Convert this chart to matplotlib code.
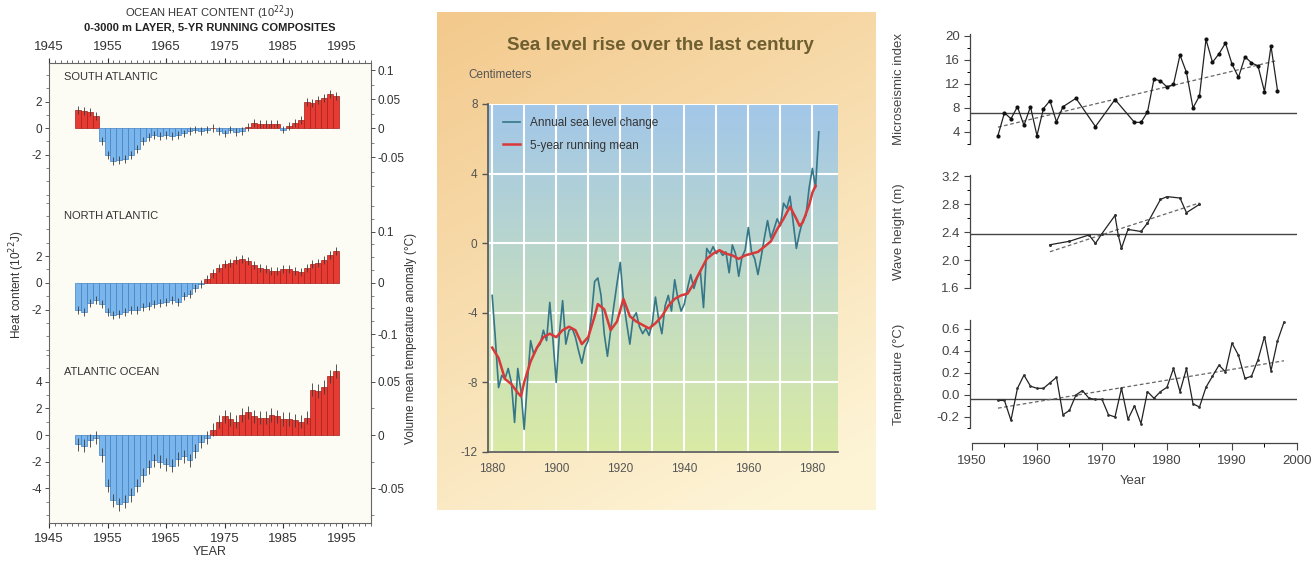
import numpy as np
import matplotlib
matplotlib.use('Agg')
import matplotlib.pyplot as plt
from matplotlib.ticker import MultipleLocator, FixedLocator
from matplotlib.colors import to_rgb

plt.rcParams['font.family'] = ['Liberation Sans', 'DejaVu Sans']
plt.rcParams['axes.unicode_minus'] = False

# ---------------- data ----------------
heat_years = list(range(1950, 1995))
south_atlantic = [1.4, 1.3, 1.2, 0.9, -1.0, -2.0, -2.5, -2.4, -2.3, -2.0,
                  -1.6, -1.0, -0.7, -0.5, -0.6, -0.5, -0.6, -0.5, -0.4, -0.2,
                  -0.1, -0.2, -0.1, 0.0, -0.2, -0.4, -0.1, -0.3, -0.2, 0.1,
                  0.4, 0.3, 0.3, 0.3, 0.3, -0.1, 0.2, 0.4, 0.6, 2.0,
                  1.9, 2.1, 2.3, 2.6, 2.4]
north_atlantic = [-2.0, -2.2, -1.5, -1.3, -1.6, -2.2, -2.4, -2.3, -2.2, -2.0,
                  -2.0, -1.8, -1.7, -1.6, -1.5, -1.4, -1.3, -1.4, -1.0, -0.8,
                  -0.4, -0.1, 0.3, 0.7, 1.1, 1.4, 1.5, 1.7, 1.8, 1.6,
                  1.3, 1.1, 1.0, 0.9, 0.9, 1.0, 1.0, 0.9, 0.8, 1.1,
                  1.4, 1.5, 1.7, 2.1, 2.4]
atlantic_ocean = [-0.7, -0.8, -0.4, -0.2, -1.5, -3.8, -4.9, -5.2, -5.0, -4.5,
                  -3.8, -3.0, -2.4, -1.9, -2.0, -2.2, -2.3, -1.8, -1.6, -1.9,
                  -1.2, -0.5, -0.2, 0.4, 1.0, 1.4, 1.2, 1.0, 1.5, 1.7,
                  1.4, 1.3, 1.3, 1.5, 1.4, 1.2, 1.2, 1.1, 1.0, 1.3,
                  3.4, 3.3, 3.6, 4.4, 4.8]
heat_err = {'SOUTH ATLANTIC': 0.3, 'NORTH ATLANTIC': 0.3, 'ATLANTIC OCEAN': 0.5}
heat_xticks = [1945, 1955, 1965, 1975, 1985, 1995]

sl_years = list(range(1880, 1983))
sl_annual = [-3.0, -5.5, -8.3, -7.6, -7.8, -7.2, -8.0, -10.3, -7.2, -8.5,
             -10.7, -8.0, -5.6, -6.4, -6.0, -5.8, -5.0, -5.6, -3.4, -5.6,
             -8.0, -5.2, -3.3, -5.8, -5.0, -4.9, -5.4, -6.2, -6.9, -6.0,
             -5.6, -4.2, -2.2, -2.0, -3.0, -5.2, -6.5, -5.0, -3.6, -2.3,
             -1.1, -3.3, -4.6, -5.8, -4.3, -4.0, -4.8, -5.2, -4.9, -5.3,
             -4.6, -3.1, -4.4, -5.2, -3.6, -3.0, -3.9, -2.1, -3.2, -3.9,
             -3.5, -2.6, -1.8, -2.6, -2.0, -1.6, -3.7, -0.3, -0.6, -0.2,
             -0.6, -0.4, -0.7, -0.5, -1.7, -0.1, -0.6, -1.9, -0.8, -0.4,
             0.9, -0.5, -0.9, -1.8, -0.8, 0.3, 1.3, 0.3, 0.8, 1.4,
             1.0, 2.3, 2.0, 2.7, 1.2, -0.3, 0.6, 1.3, 1.6, 3.2,
             4.3, 3.2, 6.4]
rm_years = [1880, 1882, 1884, 1886, 1888, 1889, 1890, 1892, 1894, 1896,
            1898, 1900, 1902, 1904, 1906, 1908, 1910, 1912, 1913, 1915,
            1917, 1919, 1921, 1923, 1925, 1927, 1929, 1931, 1933, 1935,
            1937, 1939, 1941, 1943, 1945, 1947, 1949, 1951, 1953, 1955,
            1957, 1959, 1961, 1963, 1965, 1967, 1969, 1971, 1973, 1975,
            1976, 1977, 1979, 1980, 1981]
rm_vals = [-6.0, -6.6, -7.8, -8.1, -8.6, -8.8, -8.0, -6.8, -6.0, -5.4,
           -5.2, -5.4, -5.0, -4.8, -5.0, -5.8, -5.4, -4.2, -3.5, -3.8,
           -5.0, -4.5, -3.2, -4.2, -4.5, -4.7, -4.9, -4.6, -4.2, -3.6,
           -3.2, -3.0, -2.9, -2.3, -1.6, -0.9, -0.6, -0.4, -0.6, -0.7,
           -0.9, -0.7, -0.6, -0.5, -0.2, 0.1, 0.8, 1.4, 2.1, 1.4,
           1.0, 1.2, 2.2, 2.9, 3.3]
sl_xticks = [1880, 1900, 1920, 1940, 1960, 1980]
sl_yticks = [8, 4, 0, -4, -8, -12]

micro_years = [1954, 1955, 1956, 1957, 1958, 1959, 1960, 1961, 1962, 1963, 1964,
               1966, 1969, 1972, 1975, 1976, 1977, 1978, 1979, 1980, 1981, 1982,
               1983, 1984, 1985, 1986, 1987, 1988, 1989, 1990, 1991, 1992, 1993,
               1994, 1995, 1996, 1997]
micro_vals = [3.4, 7.2, 6.2, 8.2, 5.1, 8.2, 3.4, 7.9, 9.2, 5.7, 8.2,
              9.6, 4.9, 9.4, 5.6, 5.6, 7.3, 12.8, 12.5, 11.5, 11.9, 16.8,
              13.9, 8.0, 10.0, 19.4, 15.6, 17.0, 18.8, 15.3, 13.1, 16.5, 15.5,
              15.0, 10.7, 18.3, 10.9]
micro_trend_x = [1954, 1997]
micro_trend_y = [4.8, 15.9]
micro_ref = 7.1

wave_years = [1962, 1965, 1968, 1969, 1970, 1972, 1972.5, 1973, 1974, 1976,
              1977, 1979, 1980, 1982, 1983, 1985]
wave_vals = [2.22, 2.27, 2.36, 2.24, 2.38, 2.64, 2.36, 2.17, 2.44, 2.41,
             2.53, 2.87, 2.91, 2.89, 2.68, 2.80]
wave_trend_x = [1962, 1985]
wave_trend_y = [2.12, 2.82]
wave_ref = 2.37

temp_years = list(range(1954, 1999))
temp_vals = [-0.05, -0.05, -0.23, 0.06, 0.18, 0.08, 0.06, 0.06, 0.11, 0.16,
             -0.18, -0.14, 0.00, 0.04, -0.03, -0.04, -0.04, -0.18, -0.20, 0.06,
             -0.22, -0.10, -0.26, 0.03, -0.03, 0.03, 0.07, 0.24, 0.03, 0.24,
             -0.08, -0.11, 0.07, 0.17, 0.27, 0.21, 0.47, 0.36, 0.15, 0.17,
             0.32, 0.53, 0.22, 0.49, 0.66]
temp_trend_x = [1954, 1998]
temp_trend_y = [-0.12, 0.31]
temp_ref = -0.04
right_xticks = [1950, 1960, 1970, 1980, 1990, 2000]

# ---------------- figure ----------------
W, H = 1315, 564
fig = plt.figure(figsize=(W / 100, H / 100), dpi=100)
fig.patch.set_facecolor('white')


def pax(x0, y0, x1, y1, **kw):
    return fig.add_axes([x0 / W, 1 - y1 / H, (x1 - x0) / W, (y1 - y0) / H], **kw)


# ======== LEFT: ocean heat content ========
RED, RED_E = '#e53b33', '#a81e1a'
BLUE, BLUE_E = '#7ab6ec', '#3f7fc2'
panels = [
    ('SOUTH ATLANTIC', south_atlantic, (63, 200), (-5.4, 4.9), 0.0229,
     [2, 0, -2], [0.1, 0.05, 0, -0.05], ['0.1', '0.05', '0', '-0.05']),
    ('NORTH ATLANTIC', north_atlantic, (200, 355), (-5.4, 6.2), 0.0261,
     [2, 0, -2], [0.1, 0, -0.1], ['0.1', '0', '-0.1']),
    ('ATLANTIC OCEAN', atlantic_ocean, (355, 523), (-6.6, 6.0), 0.01256,
     [4, 2, 0, -2, -4], [0.05, 0, -0.05], ['0.05', '0', '-0.05']),
]
bg_left = '#fdfcf4'
for i, (name, vals, (ya, yb), ylim, fac, lt, rt, rtl) in enumerate(panels):
    ax = pax(49, ya, 371, yb)
    ax.set_facecolor(bg_left)
    v = np.array(vals)
    cols = [RED if x >= 0 else BLUE for x in v]
    ecols = [RED_E if x >= 0 else BLUE_E for x in v]
    ax.bar(heat_years, v, width=1.0, color=cols, edgecolor=ecols, linewidth=0.5, zorder=2)
    ax.errorbar(heat_years, v, yerr=heat_err[name], fmt='none', ecolor='#3a3a3a',
                elinewidth=0.6, capsize=0, zorder=3)
    ax.set_xlim(1945, 2000)
    ax.set_ylim(*ylim)
    ax.set_yticks(sorted(set(lt)))
    ax.yaxis.set_minor_locator(MultipleLocator(1))
    ax.tick_params(axis='y', labelsize=8.5, colors='#333', length=3, width=0.6, pad=2)
    ax.tick_params(axis='y', which='minor', length=2, width=0.5, colors='#555')
    ax.text(1947.5, ylim[1] - (ylim[1] - ylim[0]) * 0.10, name, fontsize=8,
            color='#333', va='center', ha='left')
    for s in ['left', 'right', 'top', 'bottom']:
        ax.spines[s].set_color('#666')
        ax.spines[s].set_linewidth(0.8)
    ax.spines['top'].set_visible(i == 0)
    ax.spines['bottom'].set_visible(i == 2)
    ax.set_xticks(heat_xticks)
    ax.xaxis.set_minor_locator(MultipleLocator(1))
    if i == 0:
        ax.tick_params(axis='x', which='both', top=True, bottom=False,
                       labeltop=True, labelbottom=False, labelsize=9.5, colors='#333')
        ax.tick_params(axis='x', which='minor', length=2, width=0.5)
    elif i == 2:
        ax.tick_params(axis='x', which='both', labelsize=9.5, colors='#333')
        ax.tick_params(axis='x', which='minor', length=2, width=0.5)
        ax.set_xlabel('YEAR', fontsize=9, color='#333', labelpad=1)
    else:
        ax.tick_params(axis='x', which='both', bottom=False, labelbottom=False)
    ax2 = ax.twinx()
    ax2.set_ylim(ylim[0] * fac, ylim[1] * fac)
    ax2.set_yticks(rt)
    ax2.set_yticklabels(rtl)
    ax2.yaxis.set_minor_locator(MultipleLocator(0.025))
    ax2.tick_params(axis='y', labelsize=8.5, colors='#333', length=3, width=0.6, pad=2)
    ax2.tick_params(axis='y', which='minor', length=2, width=0.5, colors='#555')
    for s in ['left', 'right', 'top', 'bottom']:
        ax2.spines[s].set_visible(False)

fig.text(210 / W, 1 - 13 / H, 'OCEAN HEAT CONTENT (10$^{22}$J)', fontsize=8,
         ha='center', va='center', color='#333')
fig.text(210 / W, 1 - 27 / H, '0-3000 m LAYER, 5-YR RUNNING COMPOSITES', fontsize=8,
         ha='center', va='center', color='#222', fontweight='bold')
fig.text(17 / W, 1 - 285 / H, 'Heat content (10$^{22}$J)', fontsize=8.5,
         rotation=90, ha='center', va='center', color='#333')
fig.text(411 / W, 1 - 338 / H, 'Volume mean temperature anomaly (\u00b0C)', fontsize=8.5,
         rotation=90, ha='center', va='center', color='#333')

# ======== MIDDLE: sea level ========
bgax = pax(437, 12, 876, 510)
c_tl = np.array(to_rgb('#f3c98c'))
c_br = np.array(to_rgb('#fdf4d6'))
gx = np.linspace(0, 1, 200)[None, :]
gy = np.linspace(0, 1, 200)[:, None]
t = np.clip(0.35 * gx + 0.75 * gy, 0, 1)[..., None]
bg = c_tl * (1 - t) + c_br * t
bgax.imshow(bg, aspect='auto', extent=[0, 1, 0, 1], origin='upper')
bgax.set_axis_off()

sax = pax(488, 104, 838, 452)
sax.set_xlim(1878.7, 1988)
sax.set_ylim(-12, 8)
c_top = np.array(to_rgb('#a2c7e9'))
c_bot = np.array(to_rgb('#daeba5'))
tt = np.linspace(0, 1, 200)[:, None, None]
grad = c_top * (1 - tt) + c_bot * tt
grad = np.repeat(grad, 2, axis=1)
sax.imshow(grad, aspect='auto', extent=[1878.7, 1988, -12, 8], origin='upper', zorder=0)
sax.set_xticks(sl_xticks)
sax.xaxis.set_minor_locator(FixedLocator(list(range(1890, 1990, 10))))
sax.set_yticks(sl_yticks)
sax.grid(True, which='minor', axis='x', color='white', linewidth=1.5, zorder=1)
sax.grid(True, which='major', axis='y', color='white', linewidth=1.5, zorder=1)
sax.grid(True, which='major', axis='x', color='white', linewidth=1.5, zorder=1)
sax.plot(sl_years, sl_annual, color='#357688', linewidth=1.2, zorder=3,
         label='Annual sea level change')
sax.plot(rm_years, rm_vals, color='#d83a3a', linewidth=1.8, zorder=4,
         label='5-year running mean')
for s in ['top', 'right']:
    sax.spines[s].set_visible(False)
for s in ['left', 'bottom']:
    sax.spines[s].set_color('#555')
    sax.spines[s].set_linewidth(1.2)
sax.tick_params(axis='x', which='both', length=0, labelsize=8.5, colors='#555', pad=8)
sax.tick_params(axis='y', length=4, width=1, labelsize=8.5, colors='#555')
leg = sax.legend(loc='upper left', frameon=False, fontsize=8.5, handlelength=1.5,
                 borderaxespad=0.4, labelspacing=0.9, bbox_to_anchor=(0.015, 0.99))
for txt in leg.get_texts():
    txt.set_color('#333')
fig.text(660 / W, 1 - 45 / H, 'Sea level rise over the last century', fontsize=13.5,
         fontweight='bold', ha='center', va='center', color='#6e5e30',
         family=['Liberation Sans Narrow', 'Liberation Sans', 'DejaVu Sans'])
fig.text(468 / W, 1 - 75 / H, 'Centimeters', fontsize=8.5, ha='left', va='center',
         color='#555')

# ======== RIGHT: microseismic / wave / temperature ========
XL = (1949.7, 2000)


def style_right(ax, ylim, major, minor):
    ax.set_xlim(*XL)
    ax.set_ylim(*ylim)
    ax.set_facecolor('none')
    for s in ['top', 'right']:
        ax.spines[s].set_visible(False)
    ax.spines['left'].set_color('#444')
    ax.spines['left'].set_linewidth(0.9)
    ax.yaxis.set_major_locator(MultipleLocator(major))
    ax.yaxis.set_minor_locator(MultipleLocator(minor))
    ax.tick_params(axis='y', labelsize=9.5, colors='#444', length=4, width=0.8)
    ax.tick_params(axis='y', which='minor', length=2.5, width=0.7)


m_ax = pax(970, 34, 1297, 144)
style_right(m_ax, (2, 20.3), 4, 2)
m_ax.set_yticks([4, 8, 12, 16, 20])
m_ax.spines['bottom'].set_visible(False)
m_ax.tick_params(axis='x', which='both', bottom=False, labelbottom=False)
m_ax.axhline(micro_ref, color='#444', linewidth=1.0)
m_ax.plot(micro_trend_x, micro_trend_y, color='#666', linewidth=0.9, linestyle=(0, (3, 2)))
m_ax.plot(micro_years, micro_vals, color='#222', linewidth=0.9, marker='o',
          markersize=3.0, markerfacecolor='#111', markeredgewidth=0)
m_ax.set_ylabel('Microseismic index', fontsize=9.5, color='#444', labelpad=10)

w_ax = pax(970, 175, 1297, 288)
style_right(w_ax, (1.6, 3.22), 0.4, 0.2)
w_ax.set_yticks([1.6, 2.0, 2.4, 2.8, 3.2])
w_ax.set_yticklabels(['1.6', '2.0', '2.4', '2.8', '3.2'])
w_ax.spines['bottom'].set_visible(False)
w_ax.tick_params(axis='x', which='both', bottom=False, labelbottom=False)
w_ax.axhline(wave_ref, color='#444', linewidth=1.0)
w_ax.plot(wave_trend_x, wave_trend_y, color='#666', linewidth=0.9, linestyle=(0, (3, 2)))
w_ax.plot(wave_years, wave_vals, color='#222', linewidth=0.9, marker='o',
          markersize=2.2, markerfacecolor='#333', markeredgewidth=0)
w_ax.set_ylabel('Wave height (m)', fontsize=9.5, color='#444', labelpad=10)

t_ax = pax(970, 320, 1297, 428)
style_right(t_ax, (-0.3, 0.68), 0.2, 0.1)
t_ax.set_yticks([-0.2, 0.0, 0.2, 0.4, 0.6])
t_ax.set_yticklabels(['-0.2', '0.0', '0.2', '0.4', '0.6'])
t_ax.spines['bottom'].set_position(('outward', 11))
t_ax.spines['bottom'].set_color('#444')
t_ax.spines['bottom'].set_linewidth(0.9)
t_ax.spines['bottom'].set_bounds(1950, 2000)
t_ax.set_xticks(right_xticks)
t_ax.xaxis.set_minor_locator(MultipleLocator(5))
t_ax.tick_params(axis='x', labelsize=9.5, colors='#444', length=5, width=0.8)
t_ax.tick_params(axis='x', which='minor', length=3, width=0.7)
t_ax.axhline(temp_ref, color='#444', linewidth=1.0)
t_ax.plot(temp_trend_x, temp_trend_y, color='#666', linewidth=0.9, linestyle=(0, (3, 2)))
t_ax.plot(temp_years, temp_vals, color='#222', linewidth=0.9, marker='o',
          markersize=2.0, markerfacecolor='#333', markeredgewidth=0)
t_ax.set_ylabel('Temperature (\u00b0C)', fontsize=9.5, color='#444', labelpad=4)
t_ax.set_xlabel('Year', fontsize=9.5, color='#444', labelpad=6)

for a in (m_ax, w_ax, t_ax):
    a.yaxis.set_label_coords(-0.2, 0.5)

fig.savefig('out.png', dpi=100)
